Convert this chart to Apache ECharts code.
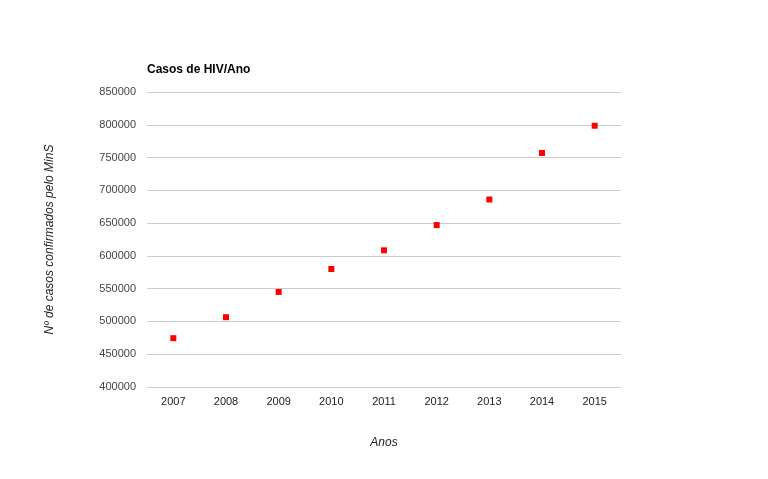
<!DOCTYPE html>
<html>
<head>
<meta charset="utf-8">
<script src="https://cdn.jsdelivr.net/npm/echarts@6/dist/echarts.min.js"></script>
<style>html,body{margin:0;padding:0;background:#fff;}#c{width:768px;height:479px;}</style>
</head>
<body>
<div id="c"></div>
<script>
const categories = ['2007','2008','2009','2010','2011','2012','2013','2014','2015'];
const casos = [474500, 506500, 545000, 580000, 608500, 647000, 686000, 757000, 798500];
const yMin = 400000, yMax = 850000, yStep = 50000;

const chart = echarts.init(document.getElementById('c'));
chart.setOption({
  animation: false,
  backgroundColor: '#fff',
  title: {
    text: 'Casos de HIV/Ano',
    left: 142, top: 59,
    textStyle: {fontFamily: 'Arial, Liberation Sans', fontSize: 12, fontWeight: 'bold', color: '#000'}
  },
  grid: {left: 147, right: 147, top: 92, bottom: 92, containLabel: false},
  xAxis: {
    type: 'category',
    data: categories,
    name: 'Anos',
    nameLocation: 'middle',
    nameGap: 50,
    nameTextStyle: {fontFamily: 'Arial, Liberation Sans', fontSize: 12, fontStyle: 'italic', color: '#222'},
    axisLine: {show: false},
    axisTick: {show: false},
    axisLabel: {fontFamily: 'Arial, Liberation Sans', fontSize: 11, color: '#222', margin: 9},
    splitLine: {show: false}
  },
  yAxis: {
    type: 'value',
    min: yMin, max: yMax, interval: yStep,
    name: 'Nº de casos confirmados pelo MinS',
    nameLocation: 'middle',
    nameGap: 91,
    nameTextStyle: {fontFamily: 'Arial, Liberation Sans', fontSize: 12, fontStyle: 'italic', color: '#222'},
    axisLine: {show: false},
    axisTick: {show: false},
    axisLabel: {fontFamily: 'Arial, Liberation Sans', fontSize: 11, color: '#444', margin: 11,
      formatter: v => String(v)},
    splitLine: {lineStyle: {color: '#cccccc', width: 1}}
  },
  series: [{
    type: 'scatter',
    data: casos,
    symbol: 'rect',
    symbolSize: 6,
    itemStyle: {color: '#ff0000', opacity: 1}
  }]
});
</script>
</body>
</html>
